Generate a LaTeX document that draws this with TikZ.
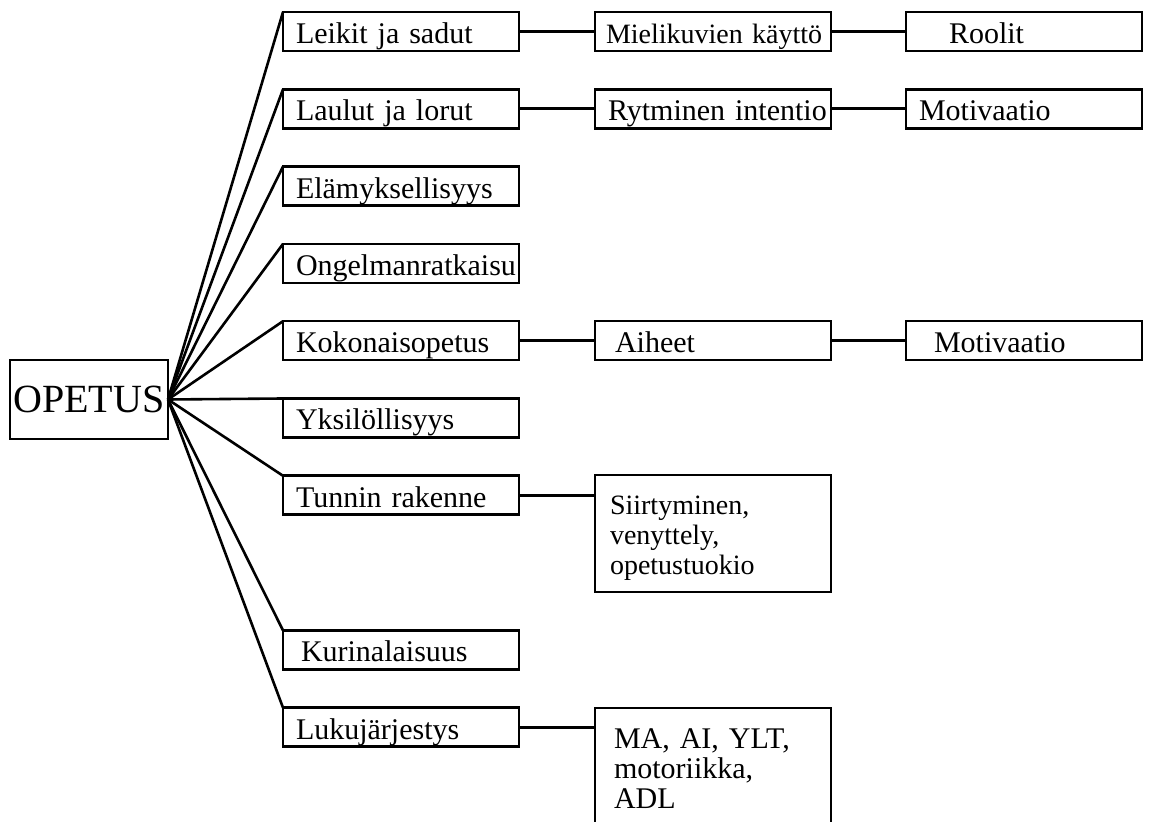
\documentclass[tikz,border=0pt]{standalone}
\usepackage{fontspec}
\setmainfont{Liberation Serif}

\tikzset{
  box/.style={draw, line width=1.3pt, outer sep=0pt, anchor=north west,
    inner xsep=6.5pt, inner ysep=2pt, text width=105pt, align=left,
    minimum height=19.5pt, text height=13pt, text depth=1pt,
    font=\fontsize{15}{15}\selectfont},
  tallbox/.style={box, minimum height=58.5pt, text height=10pt, text depth=28.5pt},
  link/.style={line width=1.3pt},
}

\begin{document}
\begin{tikzpicture}[x=0.5pt, y=-0.5pt]
  \useasboundingbox (0,0) rectangle (1149,822);
  \clip (0,0) rectangle (1149,822);
  \def\xa{283}
  \def\xb{595}
  \def\xc{906}
  \def\dy{77.3}

  \node [draw, line width=1.3pt, outer sep=0pt, inner sep=0pt,
         minimum width=79pt, minimum height=39.5pt,
         text height=13.5pt, text depth=0pt,
         font=\fontsize{20}{20}\selectfont] (opetus) at (89,399.5) {OPETUS};

  % ensimmainen taso
  \foreach \nm/\k/\txt in {leikit/0/Leikit ja sadut, laulut/1/Laulut ja lorut,
      elamys/2/Elämyksellisyys, ongelma/3/Ongelmanratkaisu,
      kokon/4/Kokonaisopetus, yksil/5/Yksilöllisyys,
      tunnin/6/Tunnin rakenne, kurin/8/\hspace*{2.5pt}Kurinalaisuus,
      lukuj/9/Lukujärjestys}{
    \node [box] (\nm) at (\xa,12+\k*\dy) {\mbox{\txt}};
    \draw [link] (opetus.east) -- (\nm.north west);
  }

  % toinen ja kolmas taso
  \node [box, inner xsep=5.5pt, text width=107pt, font=\fontsize{14}{14}\selectfont]
        (mieli) at (\xb,12) {\mbox{Mielikuvien käyttö}};
  \node [box] (roolit) at (\xc,12) {\hspace*{15pt}Roolit};
  \node [box] (rytmi) at (\xb,12+\dy) {\mbox{Rytminen intentio}};
  \node [box] (motiv1) at (\xc,12+\dy) {Motivaatio};
  \node [box] (aiheet) at (\xb,12+4*\dy) {\hspace*{3.5pt}Aiheet};
  \node [box] (motiv2) at (\xc,12+4*\dy) {\hspace*{7.5pt}Motivaatio};
  \node [tallbox, inner xsep=7.5pt, text width=103pt, font=\fontsize{14}{15}\selectfont]
        (siirt) at (\xb,475) {Siirtyminen,\\ venyttely,\\ opetustuokio};
  \node [tallbox, inner xsep=9.5pt, text width=99pt, font=\fontsize{15}{15}\selectfont]
        (aineet) at (\xb,708) {MA, AI, YLT,\\ motoriikka,\\ ADL};

  \draw [link] (leikit) -- (mieli) -- (roolit);
  \draw [link] (laulut) -- (rytmi) -- (motiv1);
  \draw [link] (kokon) -- (aiheet) -- (motiv2);
  \draw [link] (tunnin.east) -- (tunnin.east -| siirt.west);
  \draw [link] (lukuj.east) -- (lukuj.east -| aineet.west);
\end{tikzpicture}
\end{document}
